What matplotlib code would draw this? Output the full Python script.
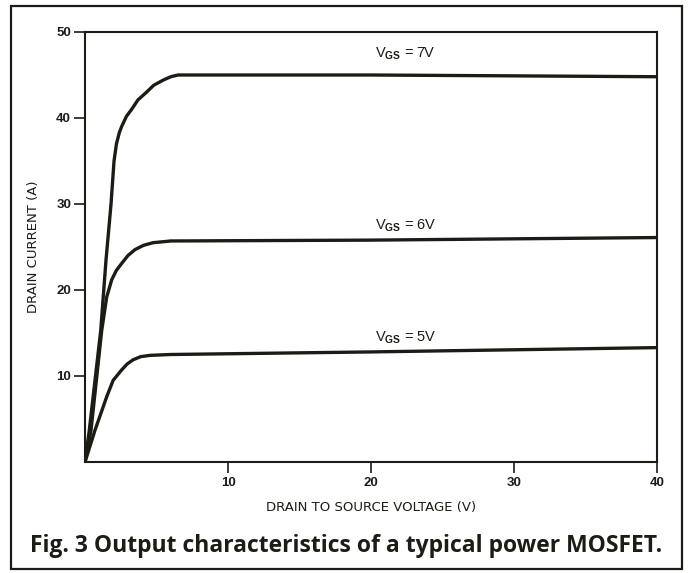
import matplotlib
matplotlib.use('Agg')
import matplotlib.pyplot as plt
from matplotlib.patches import Rectangle

# drain-source voltage (V) and drain current (A)
vds_7v = [0, 0.3, 1.1, 1.47, 1.82, 2.03, 2.2, 2.4, 2.56, 2.9, 3.26, 3.7, 4.3, 4.8, 5.46, 6.0, 6.5, 20, 40]
id_7v = [0, 3.7, 15.3, 23.5, 30.0, 35.0, 37.0, 38.3, 39.0, 40.2, 41.0, 42.1, 43.0, 43.8, 44.4, 44.8, 45.0, 45.0, 44.8]

vds_6v = [0, 0.42, 1.17, 1.52, 1.87, 2.2, 2.57, 3.0, 3.5, 4.1, 4.76, 6.0, 20, 40]
id_6v = [0, 3.7, 15.3, 19.2, 21.2, 22.3, 23.1, 24.0, 24.7, 25.2, 25.5, 25.7, 25.8, 26.1]

vds_5v = [0, 0.7, 1.52, 1.97, 2.56, 2.95, 3.38, 3.9, 4.55, 6.0, 20, 40]
id_5v = [0, 3.7, 7.6, 9.5, 10.7, 11.4, 11.9, 12.25, 12.4, 12.5, 12.8, 13.3]

curve_labels = [r'V$_{\mathbf{GS}}$ = 7V', r'V$_{\mathbf{GS}}$ = 6V', r'V$_{\mathbf{GS}}$ = 5V']
label_x = [20.3, 20.3, 20.3]
label_y = [47.1, 27.0, 14.0]

x_ticks = [10, 20, 30, 40]
y_ticks = [10, 20, 30, 40, 50]

ink = '#1c1c16'
plt.rcParams['mathtext.fontset'] = 'custom'
plt.rcParams['mathtext.rm'] = 'Liberation Sans'
plt.rcParams['mathtext.bf'] = 'Liberation Sans:bold'

fig = plt.figure(figsize=(6.89, 5.73), dpi=100)
ax = fig.add_axes([85 / 689, 111 / 573, 572 / 689, 430 / 573])

for v, i in [(vds_7v, id_7v), (vds_6v, id_6v), (vds_5v, id_5v)]:
    ax.plot(v, i, color=ink, linewidth=2.4, solid_capstyle='round', solid_joinstyle='round')

for txt, x, y in zip(curve_labels, label_x, label_y):
    ax.text(x, y, txt, fontsize=10.5, color=ink, ha='left', va='baseline', family='Liberation Sans')

ax.set_xlim(0, 40)
ax.set_ylim(0, 50)
ax.set_xticks(x_ticks)
ax.set_yticks(y_ticks)
ax.set_xticklabels([str(t) for t in x_ticks], fontsize=9.5, fontweight='bold', family='Liberation Sans', color=ink)
ax.set_yticklabels([str(t) for t in y_ticks], fontsize=9.5, fontweight='bold', family='Liberation Sans', color=ink)
ax.tick_params(axis='both', direction='out', length=8, width=1.2, color=ink, pad=3)
ax.tick_params(axis='y', pad=2)

for s in ax.spines.values():
    s.set_linewidth(1.5)
    s.set_color(ink)

ax.set_xlabel('DRAIN TO SOURCE VOLTAGE (V)', fontsize=9.5, family='DejaVu Sans', color=ink)
ax.set_ylabel('DRAIN CURRENT (A)', fontsize=9.5, family='DejaVu Sans', color=ink)
ax.xaxis.set_label_coords(0.5, -0.091)
ax.yaxis.set_label_coords(-0.078, 0.5)

# outer frame around the figure
fig.patches.append(Rectangle((11 / 689, 4 / 573), 671 / 689, 563 / 573, transform=fig.transFigure,
                             fill=False, edgecolor=ink, linewidth=1.6))

fig.text(30 / 689, 1 - 546 / 573, 'Fig. 3 Output characteristics of a typical power MOSFET.',
         fontsize=16.5, fontweight='bold', family='Open Sans', color=ink, ha='left', va='center')

fig.savefig('out.png', dpi=100, facecolor='white')
